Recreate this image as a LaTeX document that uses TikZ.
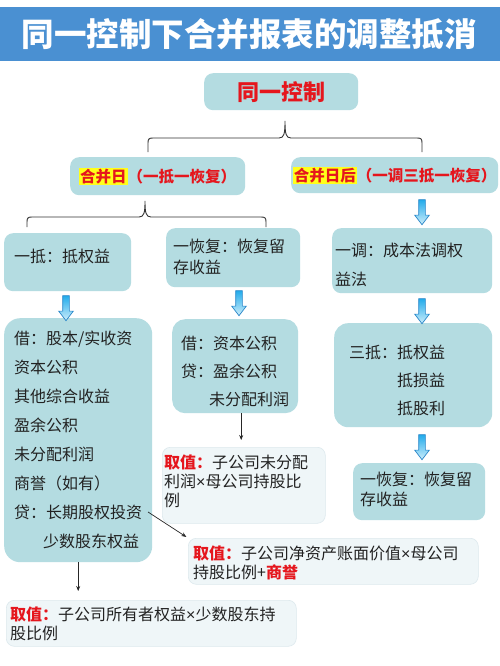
\documentclass[tikz,border=0pt]{standalone}
\usepackage{fontspec}
\usetikzlibrary{shapes.arrows,arrows.meta,calc}
\newfontfamily\cjk{Noto Sans CJK SC}
\newfontfamily\lat{Liberation Sans}
\newcommand{\mtimes}{{\lat ×}}
\definecolor{titleblue}{HTML}{4A90D2}
\definecolor{boxfill}{HTML}{B4DCE1}
\definecolor{qfill}{HTML}{EFF6F8}
\definecolor{qborder}{HTML}{DDE9ED}
\definecolor{redtxt}{HTML}{E5161D}
\definecolor{hl}{HTML}{FFFF1A}
\definecolor{arrowline}{HTML}{2A86C8}
\definecolor{arrowtop}{HTML}{22ABEB}
\definecolor{arrowbot}{HTML}{CDEEFB}
\definecolor{bodytxt}{HTML}{222222}
\setlength{\fboxsep}{0.8pt}
\begin{document}
\begin{tikzpicture}[x=1pt,y=-1pt,
  box/.style={fill=boxfill, draw=none, rounded corners=9pt, inner sep=0, anchor=north west},
  qbox/.style={fill=qfill, draw=qborder, line width=0.6pt, rounded corners=8pt, inner sep=0, anchor=north west},
  txt/.style={font=\cjk\fontsize{16}{#1}\selectfont, align=left, anchor=west, inner sep=0, text=bodytxt},
  txt/.default=29,
  barrow/.style={single arrow, shape border rotate=270, minimum height=25pt, minimum width=14pt,
    single arrow head extend=4pt, single arrow tip angle=75, inner sep=3pt, draw=arrowline,
    line width=0.7pt, top color=arrowtop, bottom color=arrowbot},
  thinarr/.style={draw=black!85, line width=0.7pt, -{Stealth[length=5pt,width=4pt]}},
  bracestyle/.style={draw=black!80, line width=0.9pt},
]
\useasboundingbox (0,0) rectangle (500,666);
\fill[white] (0,0) rectangle (500,666);

% title
\fill[titleblue] (0,7) rectangle (500,61);
\node[text=white, font=\cjk\bfseries\fontsize{32.5}{36}\selectfont, inner sep=0] (title) at (249,34) {同一控制下合并报表的调整抵消};

% top node
\node[box, minimum width=154pt, minimum height=37pt, font=\cjk\bfseries\fontsize{22}{26}\selectfont, text=redtxt] (top) at (204,73) {同一控制};

% day nodes
\node[box, minimum width=175pt, minimum height=38pt, font=\cjk\bfseries\fontsize{15.5}{18}\selectfont, text=redtxt] (d1) at (70,157) {\colorbox{hl}{合并日}（一抵一恢复）};
\node[box, minimum width=207pt, minimum height=36pt, font=\cjk\bfseries\fontsize{15.5}{18}\selectfont, text=redtxt] (d2) at (291,157) {\colorbox{hl}{合并日后}（一调三抵一恢复）};

% brace 1
\coordinate (br1l) at (148,152);
\coordinate (br1r) at (422,152);
\coordinate (br1t) at (285,121);
\draw[bracestyle] (br1l) -- (148,143) .. controls (148,139) and (149,138) .. (153,138) -- (279,138)
  .. controls (284,138) and (285,134) .. (br1t) .. controls (285,134) and (286,138) .. (291,138)
  -- (417,138) .. controls (421,138) and (422,139) .. (422,143) -- (br1r);

% brace 2
\coordinate (br2l) at (27,227);
\coordinate (br2r) at (266,227);
\coordinate (br2t) at (145,201);
\draw[bracestyle] (br2l) -- (27,222) .. controls (27,218) and (28,217) .. (32,217) -- (139,217)
  .. controls (144,217) and (145,213) .. (br2t) .. controls (145,213) and (146,217) .. (151,217)
  -- (261,217) .. controls (265,217) and (266,218) .. (266,222) -- (br2r);

% second row
\node[box, minimum width=127pt, minimum height=58pt] (b1) at (4,233) {};
\node[txt] (b1t) at (14,256) {一抵：抵权益};
\node[box, minimum width=134pt, minimum height=59pt] (b2) at (166,228) {};
\node[txt=21] (b2t) at (173,256.5) {一恢复：恢复留\\存收益};
\node[box, minimum width=160pt, minimum height=65pt] (b3) at (332,228) {};
\node[txt] (b3t) at (335,264.5) {一调：成本法调权\\益法};

% third row
\node[box, minimum width=148pt, minimum height=244pt, rounded corners=16pt] (c1) at (4,318) {};
\node[txt] (c1t) at (14,439.5) {借：股本/实收资\\资本公积\\其他综合收益\\盈余公积\\未分配利润\\商誉（如有）\\贷：长期股权投资\\\hspace*{29pt}少数股东权益};
\node[box, minimum width=126pt, minimum height=94pt, rounded corners=13pt] (c2) at (172,319) {};
\node[txt=28] (c2t) at (181,371) {借：资本公积\\贷：盈余公积\\\hspace*{28pt}未分配利润};
\node[box, minimum width=158pt, minimum height=104pt, rounded corners=14pt] (c3) at (334,323) {};
\node[txt=28] (c3t) at (349,380) {三抵：抵权益\\\hspace*{48pt}抵损益\\\hspace*{48pt}抵股利};

% last right node
\node[box, minimum width=132pt, minimum height=57pt] (e1) at (353,463) {};
\node[txt=19.5] (e1t) at (360,489.5) {一恢复：恢复留\\存收益};

% value boxes
\node[qbox, minimum width=163pt, minimum height=76pt] (q1) at (162,447) {};
\node[txt=19] (q1t) at (164,481) {{\color{redtxt}\bfseries 取值：}子公司未分配\\利润\mtimes 母公司持股比\\例};
\node[qbox, minimum width=290pt, minimum height=46pt] (q2) at (188,538) {};
\node[txt=19] (q2t) at (193,562.5) {{\color{redtxt}\bfseries 取值：}子公司净资产账面价值\mtimes 母公司\\持股比例+{\color{redtxt}\bfseries 商誉}};
\node[qbox, minimum width=290pt, minimum height=46pt] (q3) at (6,600) {};
\node[txt=19] (q3t) at (10,623.5) {{\color{redtxt}\bfseries 取值：}子公司所有者权益\mtimes 少数股东持\\股比例};

% block arrows
\node[barrow] (a0) at (422,210) {};
\node[barrow] (a1) at (66,306) {};
\node[barrow] (a2) at (239,301) {};
\node[barrow] (a3) at (422,309) {};
\node[barrow] (a4) at (422,445) {};

% thin arrows
\draw[thinarr, shorten >=7pt] ([xshift=6pt]c2.south) -- ([xshift=6pt]c2.south |- q1.north);
\coordinate (c1p) at (148,512);
\draw[thinarr, shorten >=2pt] (c1p) -- (q2.north west);
\draw[thinarr, shorten >=9pt] (c1.south) -- (c1.south |- q3.north);
\end{tikzpicture}
\end{document}
